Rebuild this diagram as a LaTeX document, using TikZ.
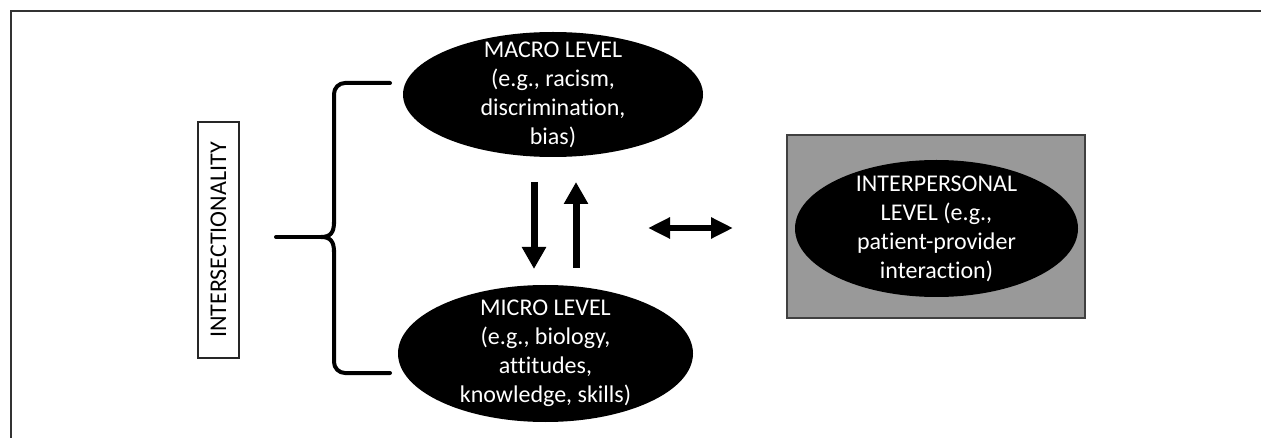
\documentclass[tikz,border=0pt]{standalone}
\usepackage{fontspec}
\setmainfont{Carlito}[Ligatures=NoCommon]
\usetikzlibrary{shapes.geometric,arrows.meta}
\tikzset{
  blob/.style={ellipse, fill=black, draw=none, inner sep=0pt},
  lbl/.style={text=white, align=center, font=\fontsize{24}{29}\selectfont, inner sep=0pt},
  framel/.style={draw=black!80, line width=2pt},
  bigarrow/.style={line width=7pt, -{Triangle[width=23pt,length=22pt]}},
  duoarrow/.style={line width=6pt, {Triangle[width=20pt,length=22pt]}-{Triangle[width=20pt,length=22pt]}},
  bracel/.style={line width=4pt, line cap=round, line join=round},
}
\begin{document}
\begin{tikzpicture}[x=1pt,y=-1pt]
\useasboundingbox (0,0) rectangle (1261,438);
% frame
\draw[framel] (1261,11) -- (11,11) -- (11,438);
% intersectionality box
\node[draw=black!85, line width=2pt, minimum width=41pt, minimum height=235pt, inner sep=0pt] (inter) at (218.5,240) {};
\node[rotate=90, font=\fontsize{24}{29}\selectfont, inner sep=0pt] at (inter) {INTERSECTIONALITY};
% brace
\coordinate (btop) at (390,83);
\coordinate (bbot) at (390,373);
\coordinate (bstem) at (276,237);
\draw[bracel, rounded corners=11pt] (btop) -- (334,83) -- (334,224);
\draw[bracel] (334,222) .. controls (334,232) and (331,237) .. (321,237);
\draw[bracel] (334,252) .. controls (334,242) and (331,237) .. (321,237);
\draw[bracel, rounded corners=11pt] (334,250) -- (334,373) -- (bbot);
\draw[bracel] (bstem) -- (321,237);
% ellipses
\node[blob, minimum width=300pt, minimum height=125pt] (macro) at (553,94.5) {};
\node[lbl] at (macro) {MACRO LEVEL\\(e.g., racism,\\discrimination,\\bias)};
\node[blob, minimum width=295pt, minimum height=137pt] (micro) at (545.5,353.5) {};
\node[lbl] at (micro) {MICRO LEVEL\\(e.g., biology,\\attitudes,\\knowledge, skills)};
\node[draw=black!75, fill=black!40, line width=2.5pt, minimum width=298pt, minimum height=183pt, inner sep=0pt] (ibox) at (936,226.5) {};
\node[blob, minimum width=283pt, minimum height=137pt] (inter2) at (936.5,228.5) {};
\node[lbl] at (inter2) {INTERPERSONAL\\LEVEL (e.g.,\\patient-provider\\interaction)};
% arrows
\coordinate (d1) at (534,182);
\coordinate (d2) at (534,269);
\coordinate (u1) at (576,268);
\coordinate (u2) at (576,182);
\coordinate (h1) at (648,228);
\coordinate (h2) at (733,228);
\draw[bigarrow] (d1) -- (d2);
\draw[bigarrow] (u1) -- (u2);
\draw[duoarrow] (h1) -- (h2);
\end{tikzpicture}
\end{document}
